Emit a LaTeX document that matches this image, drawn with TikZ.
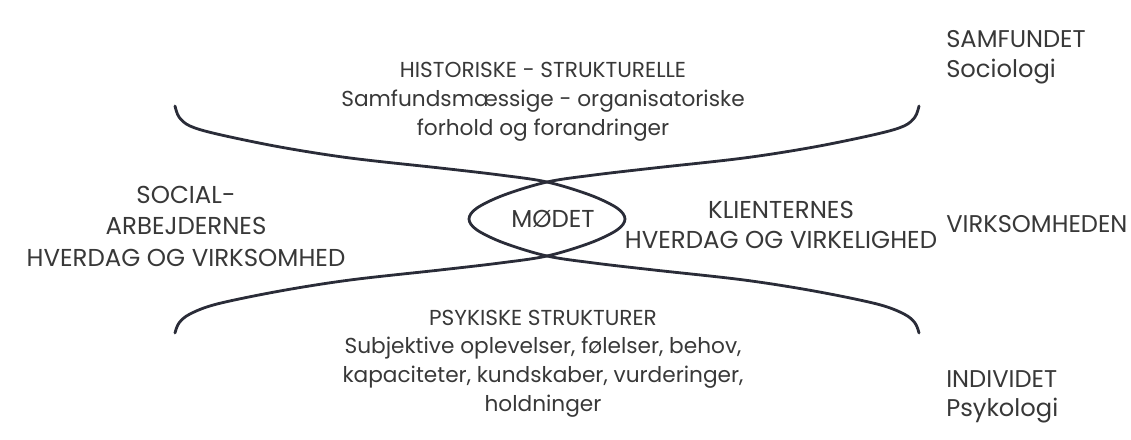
\documentclass[tikz,border=0pt]{standalone}
\usepackage{fontspec}
\setmainfont{Poppins}
\definecolor{inktext}{HTML}{383838}
\definecolor{inkline}{HTML}{2A2C38}

\begin{document}
\begin{tikzpicture}[x=0.025cm, y=-0.025cm,
	every node/.style={inner sep=0pt, text=inktext},
	biglabel/.style={font=\fontsize{17.4}{20}\selectfont, anchor=base},
	smalllabel/.style={font=\fontsize{15.4}{18}\selectfont, anchor=base},
	sidelabel/.style={font=\fontsize{17.2}{20}\selectfont, anchor=base west},
	arm/.style={draw=inkline, line width=2pt, line cap=round}]
		\useasboundingbox (0,0) rectangle (1131,440);
		
		% the two crossing curves
		\draw[arm] plot[smooth, tension=0.55] coordinates {(175,106) (179,117) (190,126) (217,134) (280,147) (350,158) (440,168) (500,175) (547,182) (590,195) (617,208) (625,219) (617,230) (590,243) (547,256) (500,263) (440,270) (350,280) (280,291) (217,304) (190,314) (179,323) (175,333)};
		\draw[arm] plot[smooth, tension=0.55] coordinates {(919,106) (915,117) (904,126) (877,134) (814,147) (744,158) (654,168) (594,175) (547,182) (504,195) (477,208) (469,219) (477,230) (504,243) (547,256) (594,263) (654,270) (744,280) (814,291) (877,304) (904,314) (915,323) (919,333)};
		
		\node (moedet) at (553,227) [biglabel] {MØDET};
		
		\node (hist) at (543,78) [smalllabel] {HISTORISKE - STRUKTURELLE};
		\node (samf) at (543,107) [smalllabel] {Samfundsmæssige - organisatoriske};
		\node (forh) at (543,136) [smalllabel] {forhold og forandringer};
		
		\node (soc) at (186,203) [biglabel] {SOCIAL-};
		\node (arb) at (186,234) [biglabel] {ARBEJDERNES};
		\node (hvsoc) at (186,266) [biglabel] {HVERDAG OG VIRKSOMHED};
		
		\node (kli) at (781,218) [biglabel] {KLIENTERNES};
		\node (hvkli) at (781,248) [biglabel] {HVERDAG OG VIRKELIGHED};
		
		\node (psy) at (543,325) [smalllabel] {PSYKISKE STRUKTURER};
		\node (subj) at (543,353) [smalllabel] {Subjektive oplevelser, følelser, behov,};
		\node (kap) at (543,382) [smalllabel] {kapaciteter, kundskaber, vurderinger,};
		\node (hold) at (543,411) [smalllabel] {holdninger};
		
		\node (samfundet) at (946,48) [sidelabel] {SAMFUNDET};
		\node (sociologi) at (946,78) [sidelabel] {Sociologi};
		\node (virk) at (946,232) [sidelabel] {VIRKSOMHEDEN};
		\node (indiv) at (946,387) [sidelabel] {INDIVIDET};
		\node (psykologi) at (946,416) [sidelabel] {Psykologi};
		
\end{tikzpicture}
\end{document}
